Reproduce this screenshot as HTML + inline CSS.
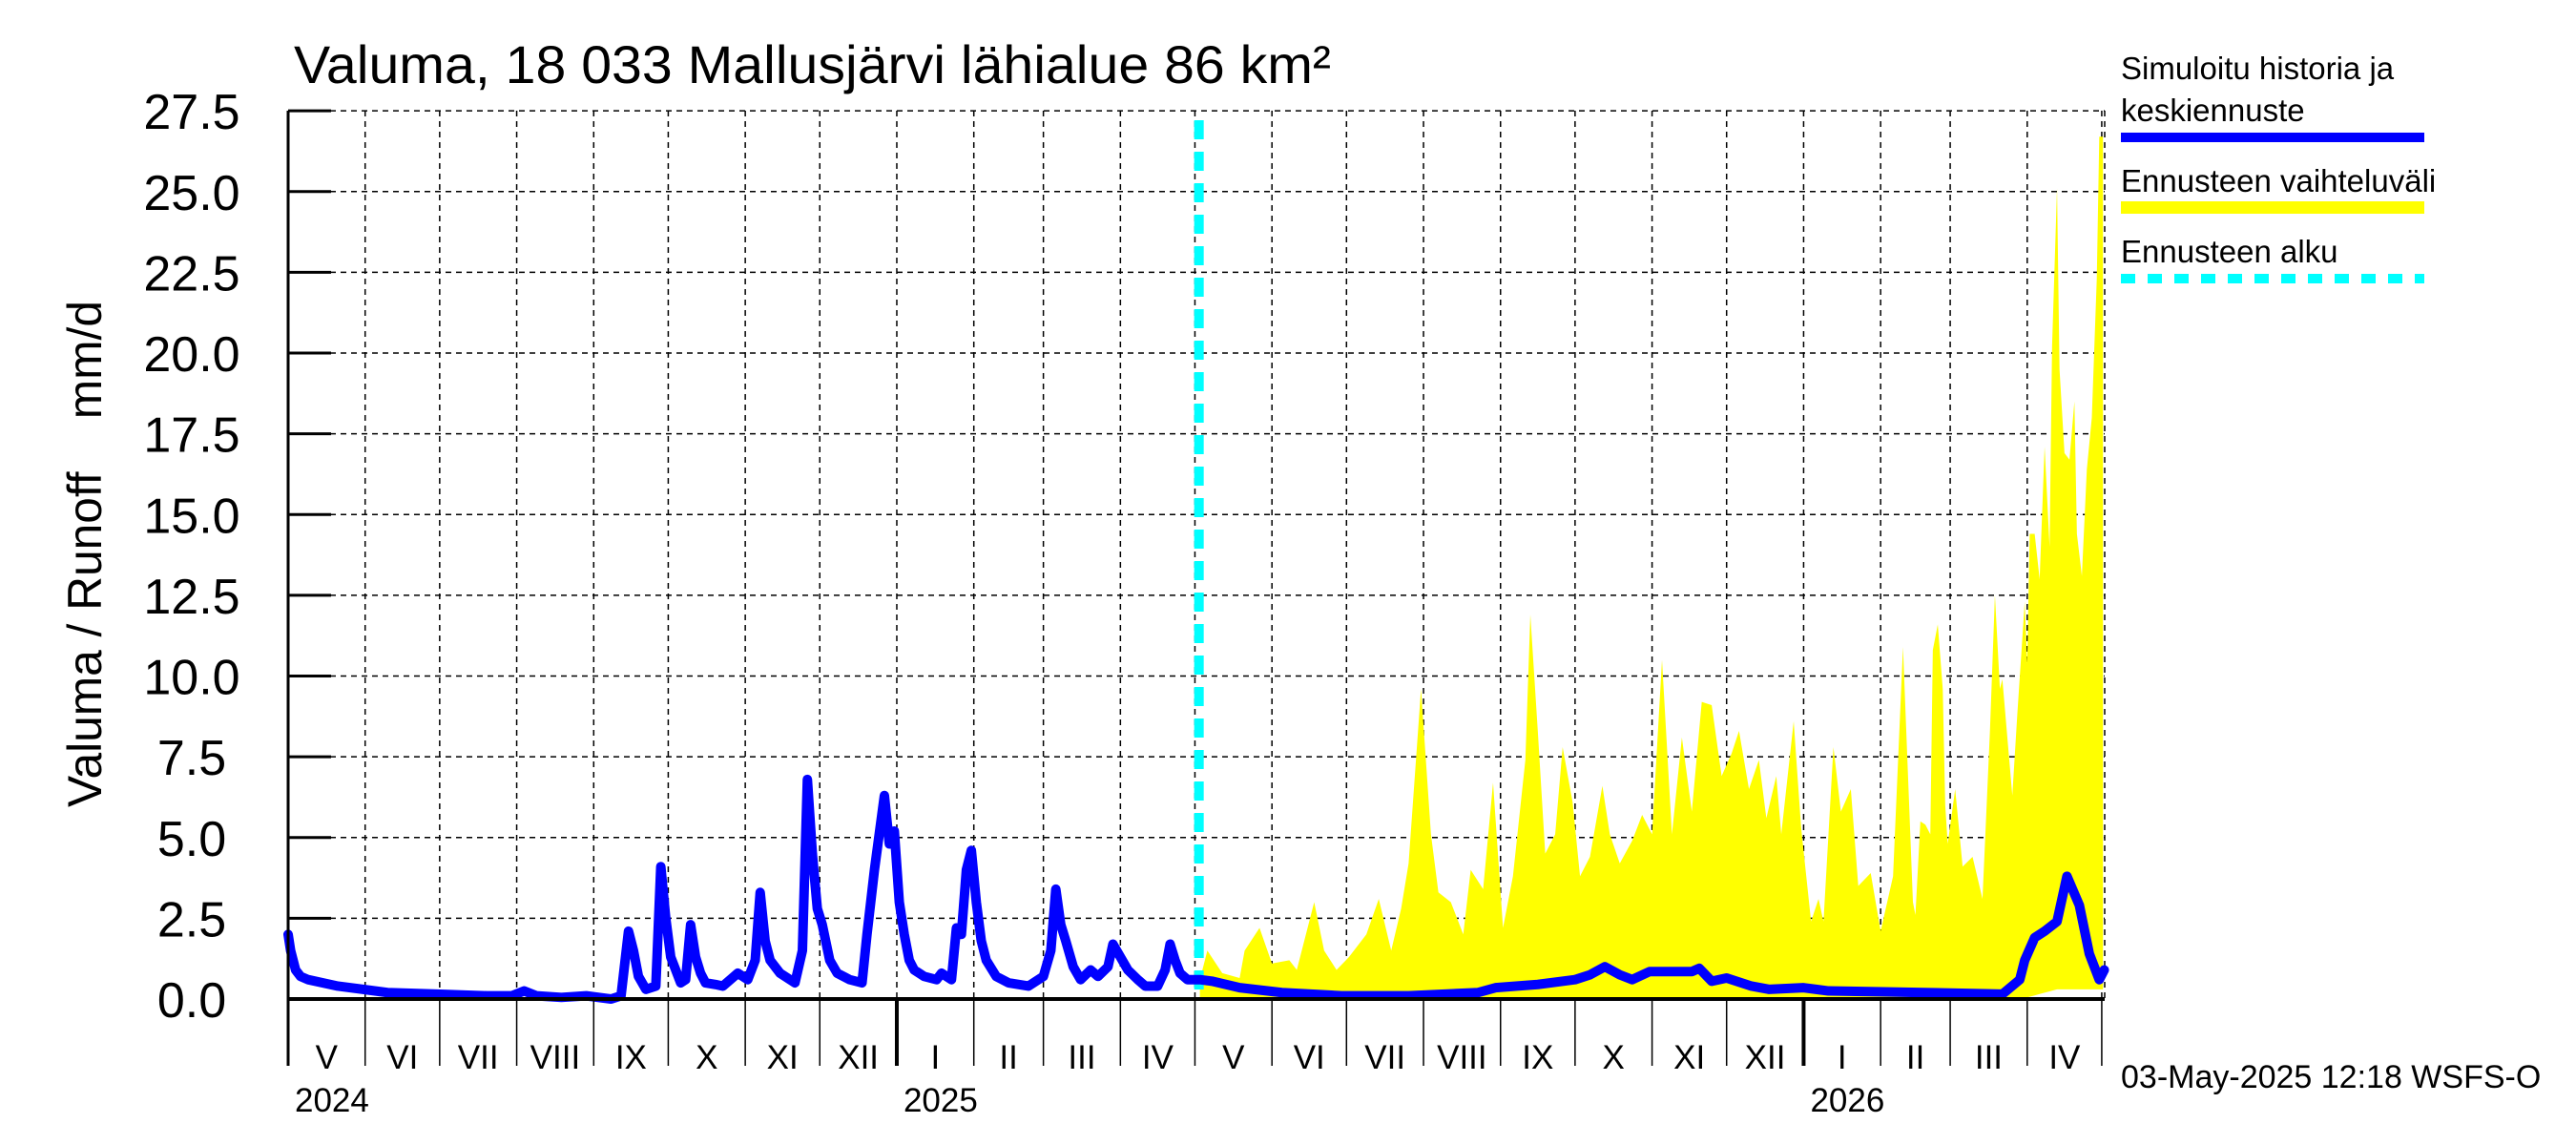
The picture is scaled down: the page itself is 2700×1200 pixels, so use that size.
<!DOCTYPE html>
<html><head><meta charset="utf-8"><style>
html,body{margin:0;padding:0;background:#fff;}
svg{display:block;font-family:"Liberation Sans",sans-serif;}
</style></head><body>
<svg id="chart" width="2700" height="1200" viewBox="0 0 2700 1200" xmlns="http://www.w3.org/2000/svg">
<rect width="2700" height="1200" fill="#fff"/>
<text x="308" y="87" font-size="56" textLength="1087" lengthAdjust="spacingAndGlyphs">Valuma, 18 033 Mallusjärvi lähialue 86 km²</text>
<text transform="translate(106,846) rotate(-90)" font-size="50" textLength="531" lengthAdjust="spacingAndGlyphs" xml:space="preserve">Valuma / Runoff    mm/d</text>
<g id="grid"></g>
<g id="band"></g>
<g id="marks"></g>
<g id="axes"></g>
<g>
<text x="2223" y="83" font-size="33">Simuloitu historia ja</text>
<text x="2223" y="127" font-size="33">keskiennuste</text>
<rect x="2223" y="139" width="318" height="10" fill="#0000ff"/>
<text x="2223" y="201" font-size="33">Ennusteen vaihteluväli</text>
<rect x="2223" y="211" width="318" height="13" fill="#ffff00"/>
<text x="2223" y="275" font-size="33">Ennusteen alku</text>
<line x1="2223" y1="292" x2="2541" y2="292" stroke="#00ffff" stroke-width="10" stroke-dasharray="15,13"/>
</g>
<text x="2223" y="1140" font-size="34">03-May-2025 12:18 WSFS-O</text>
</svg>
<script>
// ---- data ----
const yTicks = [0,2.5,5,7.5,10,12.5,15,17.5,20,22.5,25,27.5];
const yTickLabels = ["0.0","2.5","5.0","7.5","10.0","12.5","15.0","17.5","20.0","22.5","25.0","27.5"];
const monthStarts = [0,31,61,92,123,153,184,214,245,276,304,335,365,396,426,457,488,518,549,579,610,641,669,700,730];
const monthLabels = ["V","VI","VII","VIII","IX","X","XI","XII","I","II","III","IV","V","VI","VII","VIII","IX","X","XI","XII","I","II","III","IV"];
const yearLabels = ["2024","2025","2026"];
const yearDays = [0,245,610];
const forecastStartDay = 367;
const simDays = [0,1,3,5,8,20,40,60,80,90,95,100,110,120,130,134,137,139,141,144,148,150,152,154,158,160,162,164,166,168,172,175,181,185,188,190,192,194,198,204,207,209,211,213,215,218,221,226,231,233,236,240,242,244,246,248,250,252,256,261,263,267,269,271,273,275,277,279,281,285,290,298,304,307,309,311,313,316,319,323,326,330,332,335,338,342,345,350,353,355,357,359,362,367,
 372,383,400,424,451,479,486,503,518,524,530,536,541,548,565,568,573,579,589,596,610,620,659,690,697,699,703,707,712,716,721,725,729,731];
const simVals = [2.0,1.5,0.9,0.7,0.6,0.4,0.2,0.15,0.1,0.1,0.25,0.1,0.05,0.1,0.0,0.1,2.1,1.5,0.7,0.3,0.4,4.1,2.5,1.3,0.5,0.6,2.3,1.3,0.8,0.5,0.45,0.4,0.8,0.6,1.2,3.3,1.8,1.2,0.8,0.5,1.5,6.8,4.5,2.8,2.3,1.2,0.8,0.6,0.5,2.0,4.0,6.3,4.8,5.2,3.0,2.0,1.2,0.9,0.7,0.6,0.8,0.6,2.2,2.0,4.0,4.6,3.0,1.8,1.2,0.7,0.5,0.4,0.7,1.5,3.4,2.3,1.8,1.0,0.6,0.9,0.7,1.0,1.7,1.3,0.9,0.6,0.4,0.4,0.9,1.7,1.2,0.8,0.6,0.6,
 0.55,0.35,0.2,0.1,0.1,0.2,0.35,0.45,0.6,0.75,1.0,0.75,0.6,0.85,0.85,0.95,0.55,0.65,0.4,0.3,0.35,0.25,0.2,0.15,0.6,1.2,1.9,2.1,2.4,3.8,2.9,1.4,0.6,0.9];
const bandDays = [367,370,376,383,385,391,396,403,406,413,417,422,427,434,439,444,448,451,456,460,463,468,473,476,481,485,489,493,498,500,503,506,510,513,517,520,524,529,532,536,541,545,549,553,557,561,565,569,573,577,581,584,588,592,595,599,601,606,609,613,616,618,622,625,629,632,637,641,646,650,654,655,657,659,661,662,664,666,667,668,671,674,678,682,685,687,689,690,694,696,699,700,701,703,705,707,709,710,712,713,715,717,719,720,722,724,726,728,729,731];
const bandHigh = [0.6,1.5,0.8,0.65,1.5,2.2,1.1,1.2,0.9,3.0,1.5,0.9,1.3,2.0,3.1,1.5,2.8,4.2,9.6,5.1,3.3,3.0,2.0,4.0,3.4,6.7,2.2,3.8,7.4,11.9,8.3,4.5,5.1,7.8,6.1,3.8,4.4,6.6,5.1,4.2,4.9,5.7,5.1,10.5,5.1,8.1,5.8,9.2,9.1,6.9,7.6,8.3,6.5,7.4,5.6,6.9,5.1,8.6,5.3,2.4,3.1,2.4,7.8,5.8,6.5,3.5,3.9,2.1,3.8,10.9,3.0,2.6,5.5,5.4,5.1,10.8,11.6,9.6,6.0,4.8,6.5,4.1,4.4,3.1,8.3,12.5,9.6,9.9,6.3,8.8,12.3,10.4,14.4,14.4,13.0,17.1,14.0,20.2,25.1,19.5,16.9,16.7,18.5,14.4,13.1,16.4,18.0,22.3,26.7,26.7];
const bandLowDays = [367,690,700,712,731];
const bandLowVals = [0,0,0.05,0.3,0.3];

// ---- scales ----
const X0=302, PXD=2.604, Y0=1047, PXU=33.85, TOP=116, RIGHT=2206;
const xs = d => X0 + d*PXD;
const ys = v => Y0 - v*PXU;
const NS="http://www.w3.org/2000/svg";
function mk(tag, attrs, parent){const e=document.createElementNS(NS,tag);for(const k in attrs)e.setAttribute(k,attrs[k]);parent.appendChild(e);return e;}
const grid=document.getElementById('grid'), band=document.getElementById('band'), marks=document.getElementById('marks'), axes=document.getElementById('axes');

yTicks.forEach((t,i)=>{
  if(i>0){const g=mk('line',{x1:X0,x2:RIGHT,y1:ys(t),y2:ys(t),stroke:'#000','stroke-width':1.5,'stroke-dasharray':'6,5'},grid);
  
  }
  const tk=mk('line',{x1:X0,x2:X0+45,y1:ys(t),y2:ys(t),stroke:'#000','stroke-width':3},axes);
  
  
  const lb=mk('text',{x:201,y:ys(t)+19,'font-size':52,'text-anchor':'middle'},axes);
  lb.textContent=yTickLabels[i];
  
  
});
monthStarts.forEach((d,i)=>{
  if(i>0){const g=mk('line',{x1:xs(d),x2:xs(d),y1:TOP,y2:Y0,stroke:'#000','stroke-width':1.5,'stroke-dasharray':'6,5'},grid);
  
  }
  const isYear=yearDays.includes(d)&&d>0;
  const tk=mk('line',{x1:xs(d),x2:xs(d),y1:Y0,y2:1117,stroke:'#000','stroke-width':isYear?4:1.5},axes);
  
  
  if(i<monthLabels.length){
    const lb=mk('text',{x:(xs(d)+xs(monthStarts[i+1]))/2,y:1120,'font-size':35,'text-anchor':'middle'},axes);
    lb.textContent=monthLabels[i];
    
    
  }
});
const rg=mk('line',{x1:RIGHT,x2:RIGHT,y1:TOP,y2:Y0,stroke:'#000','stroke-width':1.5,'stroke-dasharray':'6,5'},grid);


yearLabels.forEach((y,i)=>{
  const lb=mk('text',{x:xs(yearDays[i])+7,y:1165,'font-size':35},axes);
  lb.textContent=y;
  
  
});
const ax=mk('line',{x1:X0,x2:RIGHT,y1:Y0,y2:Y0,stroke:'#000','stroke-width':4},axes);


const ay=mk('line',{x1:X0,x2:X0,y1:TOP,y2:1117,stroke:'#000','stroke-width':3},axes);



function lowAt(d){for(let i=1;i<bandLowDays.length;i++){if(d<=bandLowDays[i]){const t=(d-bandLowDays[i-1])/(bandLowDays[i]-bandLowDays[i-1]);return bandLowVals[i-1]+t*(bandLowVals[i]-bandLowVals[i-1]);}}return bandLowVals[bandLowVals.length-1];}
let pts=bandDays.map((d,i)=>xs(Math.min(d,730.5))+','+ys(bandHigh[i]));
for(let i=bandDays.length-1;i>=0;i--)pts.push(xs(Math.min(bandDays[i],730.5))+','+ys(lowAt(bandDays[i])));
const bp=mk('polygon',{points:pts.join(' '),fill:'#ffff00'},band);



const fl=mk('line',{x1:xs(forecastStartDay)-1,x2:xs(forecastStartDay)-1,y1:TOP+10,y2:Y0,stroke:'#00ffff','stroke-width':10,'stroke-dasharray':'20,13'},marks);



const sl=mk('polyline',{points:simDays.map((d,i)=>xs(d)+','+ys(simVals[i])).join(' '),fill:'none',stroke:'#0000ff','stroke-width':10,'stroke-linejoin':'round','stroke-linecap':'round'},marks);


</script>
</body></html>
